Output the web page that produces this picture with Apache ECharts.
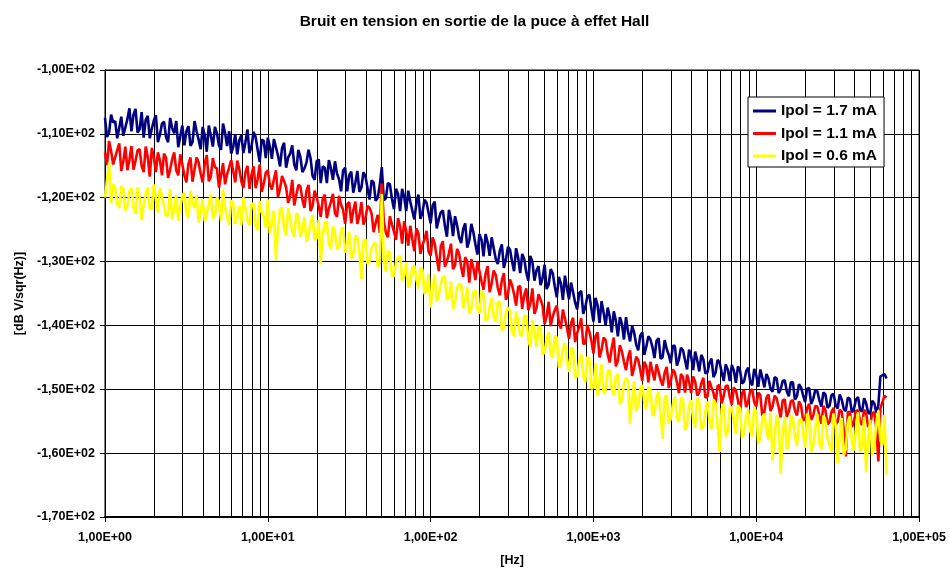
<!DOCTYPE html>
<html>
<head>
<meta charset="utf-8">
<title>Bruit en tension en sortie de la puce à effet Hall</title>
<script src="https://cdn.jsdelivr.net/npm/echarts@6/dist/echarts.min.js"></script>
<style>
  html, body { margin: 0; padding: 0; background: #fff; overflow: hidden; }
  #chart { width: 949px; height: 572px; }
</style>
</head>
<body>
<div id="chart"></div>
<script>
// Spectra sampled on a log-spaced frequency grid (80 points per decade, from 1 Hz)
const pointsPerDecade = 80;

// Noise density [dB V/sqrt(Hz)] for Ipol = 1.7 mA
const ipol17 = [
  -107.5,-110.5,-109.8,-107.0,-108.2,-108.0,-110.7,-109.1,-107.3,-110.3,
  -109.0,-107.7,-106.0,-109.6,-107.0,-106.1,-109.8,-109.3,-106.6,-110.6,
  -107.8,-107.2,-110.7,-109.2,-107.9,-107.1,-111.3,-110.1,-108.4,-108.1,
  -110.5,-111.3,-107.5,-109.1,-109.9,-108.0,-112.1,-110.4,-108.7,-111.8,
  -109.6,-108.8,-111.9,-111.3,-108.0,-109.6,-110.9,-112.4,-108.9,-110.2,
  -112.8,-108.7,-110.3,-112.0,-108.9,-109.9,-111.8,-112.5,-108.4,-109.9,
  -111.9,-109.6,-113.1,-112.0,-110.1,-113.2,-111.0,-110.2,-113.0,-111.3,
  -109.3,-113.0,-112.0,-109.7,-110.5,-112.5,-114.4,-110.9,-111.1,-113.8,
  -110.6,-112.0,-113.9,-110.8,-112.1,-113.4,-115.1,-112.2,-111.4,-115.3,
  -113.7,-113.1,-111.8,-114.8,-115.7,-112.5,-113.6,-116.0,-115.4,-114.5,
  -112.5,-113.8,-116.6,-117.2,-114.3,-114.0,-117.7,-115.1,-115.3,-117.7,
  -114.1,-115.4,-117.2,-114.3,-116.2,-117.1,-119.0,-115.7,-115.3,-119.0,
  -116.5,-115.9,-119.2,-117.7,-115.8,-119.1,-118.4,-116.0,-116.7,-118.5,
  -120.3,-117.3,-117.6,-120.5,-120.0,-118.1,-115.2,-120.4,-120.1,-117.7,
  -117.9,-120.2,-121.8,-118.6,-119.4,-122.1,-118.6,-119.9,-122.1,-118.9,
  -120.6,-122.0,-123.4,-120.9,-119.5,-123.3,-122.3,-120.3,-120.8,-122.4,
  -124.0,-121.2,-120.6,-124.8,-123.4,-122.3,-122.0,-124.4,-126.1,-121.9,
  -123.4,-126.0,-122.9,-124.3,-126.2,-127.1,-124.9,-124.0,-127.8,-126.7,
  -124.1,-125.4,-127.3,-128.9,-125.7,-126.6,-129.2,-125.7,-127.0,-129.1,
  -126.2,-127.9,-129.6,-130.4,-128.3,-127.3,-131.0,-129.7,-127.7,-128.1,
  -130.0,-131.5,-127.9,-129.4,-131.8,-128.8,-129.6,-131.7,-133.0,-129.1,
  -130.0,-133.0,-131.4,-130.7,-133.7,-132.6,-130.5,-134.3,-133.6,-131.2,
  -131.8,-133.9,-135.6,-132.4,-133.4,-136.0,-132.2,-134.2,-135.9,-133.3,
  -134.8,-136.4,-137.5,-134.9,-134.6,-138.2,-137.1,-135.5,-135.2,-137.4,
  -139.4,-135.7,-136.8,-139.6,-136.2,-138.0,-140.0,-137.2,-138.6,-141.1,
  -137.8,-139.2,-141.7,-138.7,-139.8,-142.2,-138.7,-141.0,-142.5,-140.1,
  -141.1,-143.0,-143.9,-141.6,-141.1,-144.6,-143.3,-141.7,-142.2,-143.4,
  -145.1,-142.4,-142.0,-145.2,-145.0,-142.3,-143.7,-144.6,-145.9,-143.2,
  -143.2,-146.3,-145.3,-143.5,-143.9,-145.4,-146.9,-143.8,-144.8,-147.0,
  -144.1,-145.5,-147.2,-144.6,-145.3,-147.5,-147.4,-145.9,-145.2,-148.1,
  -147.4,-145.4,-145.8,-147.3,-148.7,-146.1,-146.9,-148.7,-146.2,-147.1,
  -149.0,-146.4,-147.0,-149.1,-148.8,-147.2,-146.6,-148.7,-149.4,-146.8,
  -147.8,-149.6,-146.9,-148.2,-149.7,-147.6,-148.3,-149.9,-150.4,-148.1,
  -148.3,-150.6,-150.0,-148.7,-148.6,-150.3,-151.1,-148.9,-148.9,-151.6,
  -151.1,-149.2,-149.7,-150.9,-152.0,-149.9,-149.8,-152.3,-151.5,-150.1,
  -150.3,-151.7,-152.7,-150.5,-150.8,-152.9,-152.6,-150.9,-150.7,-152.5,
  -153.0,-150.8,-151.6,-153.1,-153.4,-151.3,-151.5,-153.6,-153.1,-151.6,
  -151.2,-153.2,-153.5,-151.4,-152.2,-153.7,-153.8,-151.8,-152.2,-153.7,
  -152.5,-148.0,-147.8,-147.6,-148.3
];

// Noise density [dB V/sqrt(Hz)] for Ipol = 1.1 mA
const ipol11 = [
  -112.9,-114.9,-111.1,-112.7,-114.8,-113.7,-112.6,-111.5,-115.8,-114.3,
  -112.0,-115.7,-114.1,-111.9,-115.6,-114.2,-112.6,-112.4,-115.0,-116.0,
  -112.0,-113.6,-116.7,-112.2,-113.7,-116.0,-112.9,-114.2,-116.5,-113.1,
  -113.8,-116.9,-115.6,-114.0,-112.9,-115.7,-116.5,-113.2,-114.8,-116.5,
  -117.6,-114.7,-113.7,-117.5,-115.6,-113.7,-114.5,-116.2,-117.6,-114.7,
  -113.3,-117.4,-116.7,-113.8,-115.2,-115.4,-118.4,-116.6,-114.6,-117.9,
  -116.3,-115.3,-114.1,-115.8,-117.6,-114.2,-115.5,-117.4,-118.5,-116.0,
  -115.0,-118.6,-116.4,-115.1,-118.5,-117.1,-114.8,-119.1,-117.8,-116.1,
  -115.7,-118.0,-118.7,-117.1,-115.7,-119.9,-118.6,-116.6,-117.4,-118.4,
  -120.8,-119.7,-117.2,-121.2,-119.6,-118.0,-118.2,-120.3,-121.6,-118.9,
  -118.0,-122.1,-121.3,-118.9,-119.9,-121.3,-123.0,-120.2,-119.5,-123.2,
  -121.7,-120.7,-119.4,-122.4,-123.0,-119.7,-121.1,-121.9,-124.1,-121.0,
  -120.7,-124.0,-122.0,-120.6,-124.1,-122.8,-120.7,-124.2,-123.2,-121.3,
  -121.6,-122.5,-125.4,-123.9,-122.7,-125.5,-117.8,-123.7,-125.5,-126.2,
  -122.9,-124.2,-125.3,-126.6,-123.2,-124.5,-127.2,-123.7,-125.3,-127.5,
  -124.4,-126.5,-128.4,-124.8,-125.6,-128.8,-127.4,-126.5,-125.2,-128.4,
  -129.1,-126.2,-127.2,-129.3,-131.5,-127.6,-126.8,-130.8,-130.0,-128.7,
  -127.2,-131.2,-130.6,-128.0,-128.8,-130.8,-132.4,-129.3,-130.0,-133.3,
  -129.6,-131.0,-132.9,-130.0,-131.5,-133.1,-134.4,-131.9,-130.7,-134.8,
  -133.4,-131.4,-132.1,-134.1,-135.3,-132.9,-131.8,-136.0,-135.1,-132.8,
  -133.7,-135.1,-136.9,-134.0,-133.8,-137.4,-135.3,-134.2,-137.6,-136.6,
  -134.2,-138.2,-137.3,-135.1,-135.9,-136.9,-139.8,-138.5,-136.3,-140.1,
  -138.6,-137.6,-136.9,-139.4,-140.5,-137.5,-138.9,-140.4,-142.1,-139.6,
  -138.8,-142.6,-141.2,-140.2,-138.9,-142.9,-142.8,-139.9,-141.0,-142.4,
  -144.4,-141.7,-141.1,-145.0,-143.8,-141.9,-142.3,-144.5,-145.8,-143.5,
  -141.9,-146.4,-145.5,-143.1,-144.1,-145.7,-147.0,-145.0,-143.9,-147.9,
  -146.6,-144.9,-145.4,-146.9,-148.7,-145.7,-146.4,-148.9,-145.7,-147.2,
  -148.6,-146.1,-147.2,-148.6,-149.4,-147.4,-146.5,-149.8,-148.7,-146.9,
  -147.4,-148.9,-150.6,-147.6,-148.1,-150.5,-147.7,-148.8,-150.6,-148.0,
  -148.8,-151.0,-150.5,-149.1,-148.2,-151.3,-151.2,-148.7,-149.7,-150.6,
  -152.1,-149.5,-149.3,-152.2,-151.0,-149.5,-149.4,-151.2,-152.4,-149.7,
  -150.2,-151.7,-153.7,-150.6,-150.1,-152.8,-152.0,-150.3,-150.0,-152.0,
  -152.7,-150.5,-150.9,-154.2,-153.5,-151.3,-150.8,-153.4,-152.7,-151.0,
  -151.4,-152.8,-154.4,-151.7,-151.6,-154.3,-153.5,-151.9,-151.7,-153.3,
  -154.1,-151.9,-152.5,-154.8,-154.8,-152.9,-152.3,-154.8,-154.1,-152.6,
  -152.7,-154.1,-155.4,-152.6,-153.3,-155.5,-155.1,-153.5,-152.9,-155.5,
  -155.1,-153.2,-153.5,-156.4,-160.5,-153.6,-153.5,-155.9,-155.1,-153.4,
  -153.3,-155.0,-155.6,-153.2,-153.8,-155.9,-155.5,-153.7,-153.6,-156.2,
  -161.3,-153.0,-152.0,-151.0,-151.3
];

// Noise density [dB V/sqrt(Hz)] for Ipol = 0.6 mA
const ipol06 = [
  -120.0,-117.2,-114.5,-120.8,-117.8,-118.5,-121.0,-121.6,-118.2,-118.6,
  -122.0,-121.2,-119.0,-118.5,-121.6,-122.5,-118.4,-119.8,-123.5,-121.1,
  -119.3,-118.4,-121.8,-121.7,-117.9,-120.3,-122.3,-118.5,-119.8,-121.3,
  -122.9,-122.7,-118.6,-123.3,-121.5,-119.6,-123.6,-121.4,-119.7,-119.2,
  -122.4,-123.2,-118.9,-120.6,-121.6,-119.6,-123.9,-122.3,-120.2,-123.7,
  -122.5,-121.0,-119.4,-123.2,-123.0,-119.9,-120.6,-123.6,-118.8,-121.5,
  -122.9,-124.3,-120.4,-120.9,-124.1,-122.8,-121.3,-124.2,-119.9,-121.7,
  -123.6,-124.2,-121.0,-120.9,-124.3,-125.1,-120.5,-122.3,-122.9,-124.7,
  -120.3,-125.6,-124.0,-122.0,-129.8,-124.8,-121.9,-121.5,-124.8,-125.9,
  -121.6,-123.4,-125.3,-126.1,-122.4,-122.8,-126.1,-125.0,-123.0,-126.9,
  -125.9,-123.9,-122.7,-126.6,-126.4,-123.5,-130.4,-126.0,-124.0,-123.7,
  -127.3,-128.0,-124.5,-125.4,-128.0,-127.8,-125.1,-124.6,-128.6,-127.4,
  -125.4,-129.5,-129.0,-125.9,-126.2,-128.4,-132.8,-126.8,-126.5,-130.4,
  -129.9,-127.9,-127.2,-127.1,-130.8,-130.4,-119.4,-129.9,-131.6,-128.3,
  -128.7,-132.3,-132.3,-130.2,-129.4,-129.1,-133.0,-132.3,-130.1,-134.1,
  -133.5,-130.9,-130.6,-132.8,-134.2,-130.9,-131.3,-135.1,-134.6,-131.9,
  -137.2,-134.3,-132.0,-136.3,-135.3,-133.5,-132.4,-132.4,-136.0,-135.7,
  -133.1,-137.4,-136.4,-134.1,-133.6,-133.5,-137.3,-136.2,-134.0,-138.1,
  -137.5,-134.8,-134.5,-137.3,-138.2,-134.6,-135.1,-139.3,-138.9,-137.1,
  -135.7,-138.7,-139.4,-136.3,-136.4,-140.8,-140.3,-137.9,-137.2,-137.7,
  -141.0,-141.7,-137.8,-139.4,-141.6,-141.5,-138.5,-138.5,-142.3,-143.4,
  -139.2,-140.7,-143.4,-140.2,-140.1,-144.6,-144.2,-142.2,-141.0,-144.5,
  -145.1,-141.6,-141.9,-146.6,-146.0,-143.5,-142.8,-145.5,-147.3,-143.6,
  -143.6,-148.2,-148.0,-145.6,-144.5,-147.8,-148.9,-144.9,-145.3,-150.0,
  -149.6,-145.9,-151.0,-148.7,-146.1,-150.7,-150.2,-147.2,-147.0,-149.9,
  -150.9,-148.1,-147.6,-152.3,-151.7,-149.3,-148.2,-148.7,-155.4,-151.6,
  -148.8,-153.4,-152.6,-149.9,-149.3,-152.0,-153.2,-149.6,-150.0,-154.1,
  -154.0,-151.2,-150.4,-153.5,-157.8,-151.3,-150.9,-155.4,-154.6,-152.4,
  -151.2,-154.5,-155.1,-151.4,-151.5,-156.4,-155.6,-152.6,-151.7,-154.7,
  -156.0,-151.4,-152.0,-156.3,-155.8,-153.4,-151.9,-154.9,-156.3,-151.6,
  -152.3,-155.6,-159.8,-153.1,-152.4,-157.4,-156.5,-153.0,-152.8,-155.0,
  -157.0,-152.5,-153.0,-157.6,-156.9,-154.3,-153.1,-156.5,-157.4,-152.8,
  -153.6,-158.6,-157.6,-154.4,-153.8,-156.3,-157.9,-153.7,-161.2,-157.9,
  -154.0,-155.2,-163.2,-156.9,-154.3,-159.4,-158.4,-154.0,-154.5,-157.3,
  -158.9,-154.9,-154.6,-156.7,-159.2,-153.8,-154.7,-159.9,-158.8,-156.2,
  -153.9,-158.3,-159.4,-154.1,-154.9,-157.5,-158.7,-159.8,-153.8,-155.5,
  -161.6,-157.3,-154.5,-160.4,-159.3,-155.1,-154.2,-158.3,-159.6,-156.1,
  -153.6,-159.9,-158.9,-154.3,-163.0,-157.7,-154.8,-160.3,-159.0,-155.2,
  -153.3,-158.0,-158.8,-154.0,-163.4
];

const seriesNames = ['Ipol = 1.7 mA', 'Ipol = 1.1 mA', 'Ipol = 0.6 mA'];
const seriesColors = ['#000080', '#FF0000', '#FFFF00'];

// Intermediate gridlines (2..9 within each decade)
const minorGridHz = [
  2, 3, 4, 5, 6, 7, 8, 9,
  20, 30, 40, 50, 60, 70, 80, 90,
  200, 300, 400, 500, 600, 700, 800, 900,
  2000, 3000, 4000, 5000, 6000, 7000, 8000, 9000,
  20000, 30000, 40000, 50000, 60000, 70000, 80000, 90000
];

const FONT = '"Liberation Sans", Arial, Helvetica, sans-serif';

function withFreq(values) {
  return values.map((v, i) => [Math.pow(10, i / pointsPerDecade), v]);
}

function sciX(v) {
  const e = Math.round(Math.log10(v));
  return '1,00E+' + String(e).padStart(2, '0');
}

function sciY(v) {
  const m = Math.abs(v) / 100;
  return (v < 0 ? '-' : '') + m.toFixed(2).replace('.', ',') + 'E+02';
}

const chart = echarts.init(document.getElementById('chart'), null, { renderer: 'canvas' });

const seriesData = [ipol17, ipol11, ipol06];

chart.setOption({
  animation: false,
  backgroundColor: '#fff',
  title: {
    text: 'Bruit en tension en sortie de la puce à effet Hall',
    left: 'center',
    top: 9,
    textStyle: { fontFamily: FONT, fontWeight: 'bold', fontSize: 15.5, color: '#000' }
  },
  legend: {
    data: seriesNames,
    orient: 'vertical',
    left: 748,
    top: 97,
    padding: [6, 7, 3, 5],
    itemGap: 6.5,
    itemWidth: 23,
    itemHeight: 3,
    icon: 'rect',
    backgroundColor: '#fff',
    borderColor: '#000',
    borderWidth: 1,
    borderRadius: 0,
    textStyle: { fontFamily: FONT, fontWeight: 'bold', fontSize: 15.5, color: '#000' }
  },
  grid: {
    left: 105, top: 70, width: 815, height: 450,
    show: true, borderColor: '#000', borderWidth: 1,
    backgroundColor: '#fff'
  },
  xAxis: {
    type: 'log',
    logBase: 10,
    min: 1,
    max: 100000,
    name: '[Hz]',
    nameLocation: 'middle',
    nameGap: 37,
    nameTextStyle: { fontFamily: FONT, fontWeight: 'bold', fontSize: 12.5, color: '#000' },
    axisLine: { lineStyle: { color: '#000', width: 2 } },
    axisTick: { show: true, length: 5, lineStyle: { color: '#000' } },
    axisLabel: {
      margin: 14,
      formatter: sciX,
      fontFamily: FONT, fontWeight: 'bold', fontSize: 12.5, color: '#000'
    },
    splitLine: { show: true, lineStyle: { color: '#000', width: 1 } }
  },
  yAxis: {
    type: 'value',
    min: -170,
    max: -100,
    interval: 10,
    name: '[dB V/sqr(Hz)]',
    nameLocation: 'middle',
    nameGap: 73,
    nameRotate: 90,
    nameTextStyle: { fontFamily: FONT, fontWeight: 'bold', fontSize: 12.5, color: '#000' },
    axisLine: { show: true, lineStyle: { color: '#000', width: 1 } },
    axisTick: { show: true, length: 5, lineStyle: { color: '#000' } },
    axisLabel: {
      margin: 10,
      formatter: sciY,
      fontFamily: FONT, fontWeight: 'bold', fontSize: 12.5, color: '#000'
    },
    splitLine: { show: true, lineStyle: { color: '#000', width: 1 } }
  },
  series: seriesData.map((vals, k) => {
    const s = {
      name: seriesNames[k],
      type: 'line',
      data: withFreq(vals),
      showSymbol: false,
      symbol: 'none',
      z: 2 + k,
      color: seriesColors[k],
      lineStyle: { color: seriesColors[k], width: 2.6 },
      emphasis: { disabled: true }
    };
    if (k === 0) {
      s.markLine = {
        silent: true,
        z: 1,
        symbol: ['none', 'none'],
        label: { show: false },
        animation: false,
        lineStyle: { color: '#000', width: 1, type: 'solid', opacity: 1 },
        emphasis: { disabled: true },
        data: minorGridHz.map(v => ({ xAxis: v }))
      };
    }
    return s;
  })
});
</script>
</body>
</html>
